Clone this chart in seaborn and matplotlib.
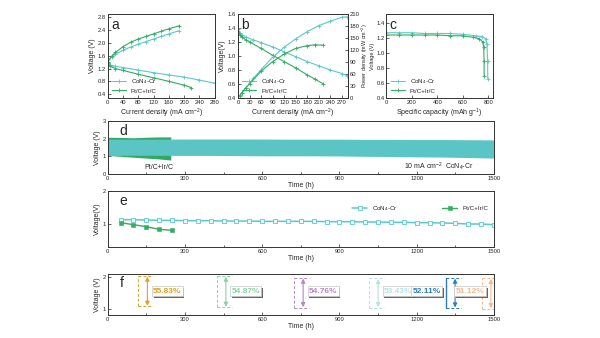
import numpy as np
import pandas as pd
import matplotlib
matplotlib.use("Agg")
import matplotlib.pyplot as plt
import matplotlib.patheffects as pe
import seaborn as sns

sns.set_theme(style="ticks")
plt.rcParams['font.family'] = ['Liberation Sans', 'DejaVu Sans']
plt.rcParams['mathtext.fontset'] = 'custom'
plt.rcParams['mathtext.rm'] = 'Liberation Sans'
plt.rcParams['mathtext.it'] = 'Liberation Sans'

CYAN = '#5CC8CC'
GREEN = '#33AD62'

# ---------------- data ----------------
# (a) charge / discharge polarization
a_cy_chg_i = [0, 10, 20, 40, 60, 80, 100, 120, 140, 160, 187]
a_cy_chg_v = [1.40, 1.55, 1.64, 1.77, 1.87, 1.96, 2.04, 2.12, 2.20, 2.28, 2.38]
a_cy_dis_i = [0, 5, 20, 40, 80, 120, 160, 200, 240, 280]
a_cy_dis_v = [1.38, 1.32, 1.27, 1.23, 1.15, 1.07, 1.00, 0.93, 0.84, 0.74]
a_pt_chg_i = [0, 10, 20, 40, 60, 80, 100, 120, 140, 160, 186]
a_pt_chg_v = [1.40, 1.58, 1.70, 1.88, 2.02, 2.12, 2.20, 2.28, 2.36, 2.44, 2.53]
a_pt_dis_i = [0, 5, 20, 40, 80, 120, 160, 200, 219]
a_pt_dis_v = [1.36, 1.28, 1.20, 1.14, 1.02, 0.91, 0.80, 0.68, 0.60]

# (b) discharge polarization and power density
b_cy_i = [0, 5, 10, 20, 40, 60, 90, 120, 150, 180, 210, 240, 270, 282]
b_cy_v = [1.40, 1.33, 1.30, 1.27, 1.23, 1.19, 1.13, 1.06, 0.99, 0.92, 0.86, 0.80, 0.75, 0.72]
b_cy_p = [0, 7, 13, 25, 49, 71, 102, 127, 148, 166, 181, 192, 202, 203]
b_pt_i = [0, 5, 10, 20, 30, 60, 90, 120, 150, 180, 200, 222]
b_pt_v = [1.38, 1.30, 1.27, 1.23, 1.20, 1.11, 1.01, 0.92, 0.83, 0.73, 0.67, 0.60]
b_pt_p = [0, 6, 13, 25, 36, 67, 91, 110, 124, 131, 133, 132]

# (c) specific capacity
c_cy_cap = [0, 100, 200, 300, 400, 500, 600, 700, 750, 780, 790, 795, 796]
c_cy_v = [1.27, 1.27, 1.27, 1.26, 1.26, 1.26, 1.25, 1.23, 1.22, 1.19, 1.12, 0.90, 0.66]
c_pt_cap = [0, 100, 200, 300, 400, 500, 600, 680, 730, 755, 764, 767, 768]
c_pt_v = [1.24, 1.24, 1.24, 1.24, 1.24, 1.23, 1.23, 1.21, 1.19, 1.15, 1.08, 0.90, 0.70]

# (d) cycling voltage envelopes at 10 mA cm-2
d_cy_t = [0, 100, 200, 300, 400, 500, 600, 700, 800, 900, 1000, 1100, 1200, 1300, 1400, 1500]
d_cy_hi = [1.97, 1.97, 1.97, 1.98, 1.98, 1.98, 1.98, 1.97, 1.97, 1.97, 1.96, 1.96, 1.95, 1.95, 1.94, 1.93]
d_cy_lo = [1.05, 1.06, 1.06, 1.05, 1.05, 1.04, 1.03, 1.03, 1.03, 1.02, 1.00, 0.99, 0.97, 0.96, 0.93, 0.90]
d_pt_t = [0, 50, 100, 150, 200, 245]
d_pt_hi = [2.08, 2.07, 2.05, 2.08, 2.10, 2.10]
d_pt_lo = [1.05, 1.00, 0.95, 0.90, 0.85, 0.79]

# (e) discharge voltage vs time
e_cy_t = list(range(50, 1501, 50))
e_cy_v = [1.14, 1.14, 1.13, 1.12, 1.12, 1.11, 1.11, 1.11, 1.10, 1.10,
          1.10, 1.09, 1.09, 1.09, 1.09, 1.09, 1.08, 1.08, 1.08, 1.07,
          1.07, 1.06, 1.06, 1.05, 1.05, 1.04, 1.03, 1.01, 1.01, 0.99]
e_pt_t = [50, 100, 150, 200, 250]
e_pt_v = [1.05, 0.99, 0.93, 0.85, 0.82]

# (f) round-trip efficiency
f_t = [154, 459, 759, 1050, 1349, 1488]
f_top = [2.02, 2.02, 1.96, 1.95, 1.96, 1.95]
f_bot = [1.09, 1.06, 1.05, 1.05, 1.04, 1.02]
f_eff = ['55.83%', '54.87%', '54.76%', '53.43%', '52.11%', '51.12%']
f_colors = ['#D9A22B', '#86D4A4', '#B488C8', '#B5E3E3', '#2B7DBE', '#F6B890']

# ---------------- figure ----------------
fig = plt.figure(figsize=(6.0, 3.38), dpi=100)
TK = 4.2
LB = 5.0

def style(ax):
    ax.tick_params(direction='in', labelsize=TK, length=2, width=0.5, pad=1.5)
    for s in ax.spines.values():
        s.set_linewidth(0.7)
        s.set_color('#333333')

def panel(ax, letter):
    ax.text(0.03, 0.95, letter, transform=ax.transAxes, fontsize=10,
            va='top', ha='left')

def lk(col):
    return dict(marker='+', markersize=2.5, linewidth=0.8, markeredgewidth=0.6,
                markeredgecolor=col, linestyle='-', color=col)

# a
axa = fig.add_axes([0.1795, 0.710, 0.1785, 0.2486])
sns.lineplot(x=a_cy_chg_i, y=a_cy_chg_v, ax=axa, label='CoN$_4$-Cr', **lk(CYAN))
sns.lineplot(x=a_cy_dis_i, y=a_cy_dis_v, ax=axa, **lk(CYAN))
sns.lineplot(x=a_pt_chg_i, y=a_pt_chg_v, ax=axa, label='Pt/C+Ir/C', **lk(GREEN))
sns.lineplot(x=a_pt_dis_i, y=a_pt_dis_v, ax=axa, **lk(GREEN))
axa.set_xlim(0, 280)
axa.set_ylim(0.28, 2.9)
axa.set_xticks(range(0, 281, 40))
axa.set_yticks(np.arange(0.4, 2.81, 0.4))
axa.set_xlabel('Current density (mA cm$^{-2}$)', fontsize=LB, labelpad=1)
axa.set_ylabel('Voltage (V)', fontsize=LB, labelpad=1)
axa.legend(loc='lower left', fontsize=4.5, frameon=False, handlelength=2.2,
           borderaxespad=0.3, labelspacing=0.4)
style(axa)
panel(axa, 'a')

# b
axb = fig.add_axes([0.3967, 0.710, 0.1828, 0.2486])
sns.lineplot(x=b_cy_i, y=b_cy_v, ax=axb, label='CoN$_4$-Cr', **lk(CYAN))
sns.lineplot(x=b_pt_i, y=b_pt_v, ax=axb, label='Pt/C+Ir/C', **lk(GREEN))
axb.set_xlim(0, 285)
axb.set_ylim(0.4, 1.6)
axb.set_xticks(range(0, 271, 30))
axb.set_yticks(np.arange(0.4, 1.61, 0.2))
axb.set_xlabel('Current density (mA cm$^{-2}$)', fontsize=LB, labelpad=1)
axb.set_ylabel('Voltage(V)', fontsize=LB, labelpad=1)
axb.legend(loc='lower left', fontsize=4.5, frameon=False, handlelength=2.2,
           borderaxespad=0.3, labelspacing=0.4)
axb2 = axb.twinx()
sns.lineplot(x=b_cy_i, y=b_cy_p, ax=axb2, **lk(CYAN))
sns.lineplot(x=b_pt_i, y=b_pt_p, ax=axb2, **lk(GREEN))
axb2.set_ylim(0, 210)
axb2.set_yticks(range(0, 211, 30))
axb2.set_ylabel('Power density (mW cm$^{-2}$)', fontsize=4.0)
axb2.yaxis.set_label_coords(1.110, 0.5)
style(axb)
style(axb2)
panel(axb, 'b')

# c
axc = fig.add_axes([0.644, 0.710, 0.1772, 0.2486])
sns.lineplot(x=c_cy_cap, y=c_cy_v, ax=axc, sort=False, label='CoN$_4$-Cr', **lk(CYAN))
sns.lineplot(x=c_pt_cap, y=c_pt_v, ax=axc, sort=False, label='Pt/C+Ir/C', **lk(GREEN))
axc.set_xlim(0, 835)
axc.set_ylim(0.4, 1.52)
axc.set_xticks(range(0, 801, 200))
axc.set_yticks(np.arange(0.4, 1.41, 0.2))
axc.set_xlabel('Specific capacity (mAh g$^{-1}$)', fontsize=LB, labelpad=1)
axc.set_ylabel('Voltage (V)', fontsize=4.0)
axc.yaxis.set_label_coords(-0.106, 0.5)
axc.legend(loc='lower left', fontsize=4.5, frameon=False, handlelength=2.2,
           borderaxespad=0.3, labelspacing=0.4)
style(axc)
axc.tick_params(axis='y', pad=1.0)
panel(axc, 'c')

# d
axd = fig.add_axes([0.1795, 0.4852, 0.6438, 0.1568])
axd.fill_between(d_pt_t, d_pt_lo, d_pt_hi, color='#2FAA5E', lw=0)
axd.fill_between(d_cy_t, d_cy_lo, d_cy_hi, color='#5BC4C4', lw=0)
axd.set_xlim(0, 1500)
axd.set_ylim(0, 3)
axd.set_xticks(range(0, 1501, 300))
axd.set_xticks(range(150, 1500, 300), minor=True)
axd.set_yticks([0, 1, 2, 3])
axd.set_xlabel('Time (h)', fontsize=LB, labelpad=1)
axd.set_ylabel('Voltage (V)', fontsize=LB, labelpad=1)
axd.text(200, 0.38, 'Pt/C+Ir/C', fontsize=5, ha='center', va='center')
axd.text(1225, 0.42, '10 mA cm$^{-2}$', fontsize=5, ha='center', va='center')
axd.text(1365, 0.42, 'CoN$_4$-Cr', fontsize=5, ha='center', va='center')
style(axd)
axd.tick_params(which='minor', direction='in', length=1.5, width=0.5)
panel(axd, 'd')

# e
axe = fig.add_axes([0.1795, 0.2692, 0.6438, 0.1657])
sns.lineplot(x=e_cy_t, y=e_cy_v, ax=axe, color=CYAN, marker='s', markersize=2.8,
             markerfacecolor='#E8F8F8', markeredgecolor=CYAN, markeredgewidth=0.6,
             linewidth=1.1, label='CoN$_4$-Cr')
sns.lineplot(x=e_pt_t, y=e_pt_v, ax=axe, color=GREEN, marker='s', markersize=2.5,
             markeredgecolor=GREEN, markeredgewidth=0.4, linewidth=1.0, label='Pt/C+Ir/C')
axe.set_xlim(0, 1500)
axe.set_ylim(0.32, 2.0)
axe.set_xticks(range(0, 1501, 300))
axe.set_xticks(range(150, 1500, 300), minor=True)
axe.set_yticks([1, 2])
axe.set_xlabel('Time (h)', fontsize=LB, labelpad=1)
axe.set_ylabel('Voltage(V)', fontsize=LB, labelpad=1)
axe.legend(loc='upper right', ncol=2, fontsize=4.5, frameon=False, handlelength=2.5,
           columnspacing=7, bbox_to_anchor=(1.0, 0.86))
style(axe)
axe.tick_params(which='minor', direction='in', length=1.5, width=0.5)
panel(axe, 'e')

# f
axf = fig.add_axes([0.1795, 0.068, 0.6438, 0.1213])
for i, (t, top, bot, eff, col) in enumerate(zip(f_t, f_top, f_bot, f_eff, f_colors)):
    left, right = t - 36, t + 22
    ls_left = '-' if i == 4 else (0, (3, 2))
    axf.plot([left, left], [bot, top], color=col, lw=1.0 if i == 4 else 0.7, ls=ls_left)
    axf.plot([left, right], [top, top], color=col, lw=0.7, ls=(0, (3, 2)))
    axf.plot([left, right], [bot, bot], color=col, lw=0.7, ls=(0, (3, 2)))
    if i == 5:
        axf.plot([right, right], [bot, top], color=col, lw=0.7, ls=(0, (3, 2)))
    axf.annotate('', xy=(t, top - 0.02), xytext=(t, bot + 0.02),
                 arrowprops=dict(arrowstyle='<|-|>', color=col, lw=0.8,
                                 mutation_scale=6, shrinkA=0, shrinkB=0))
    if i < 4:
        tx, ha = t + 22, 'left'
    elif i == 4:
        tx, ha = t - 55, 'right'
    else:
        tx, ha = t - 25, 'right'
    txt = axf.text(tx, 1.56, eff, color=col, fontsize=6, fontweight='bold',
                   ha=ha, va='center',
                   bbox=dict(boxstyle='square,pad=0.15', fc='white', ec='#C8C8C8', lw=0.5))
    txt.get_bbox_patch().set_path_effects([
        pe.SimplePatchShadow(offset=(1.3, -1.3), shadow_rgbFace='#555555', alpha=0.9),
        pe.Normal()])
axf.set_xlim(0, 1500)
axf.set_ylim(0.83, 2.08)
axf.set_xticks(range(0, 1501, 300))
axf.set_xticks(range(150, 1500, 300), minor=True)
axf.set_yticks([1, 2])
axf.set_xlabel('Time (h)', fontsize=LB, labelpad=1)
axf.set_ylabel('Voltage (V)', fontsize=LB, labelpad=1)
style(axf)
axf.tick_params(which='minor', direction='in', length=1.5, width=0.5)
panel(axf, 'f')

fig.savefig('out.png', dpi=100)
